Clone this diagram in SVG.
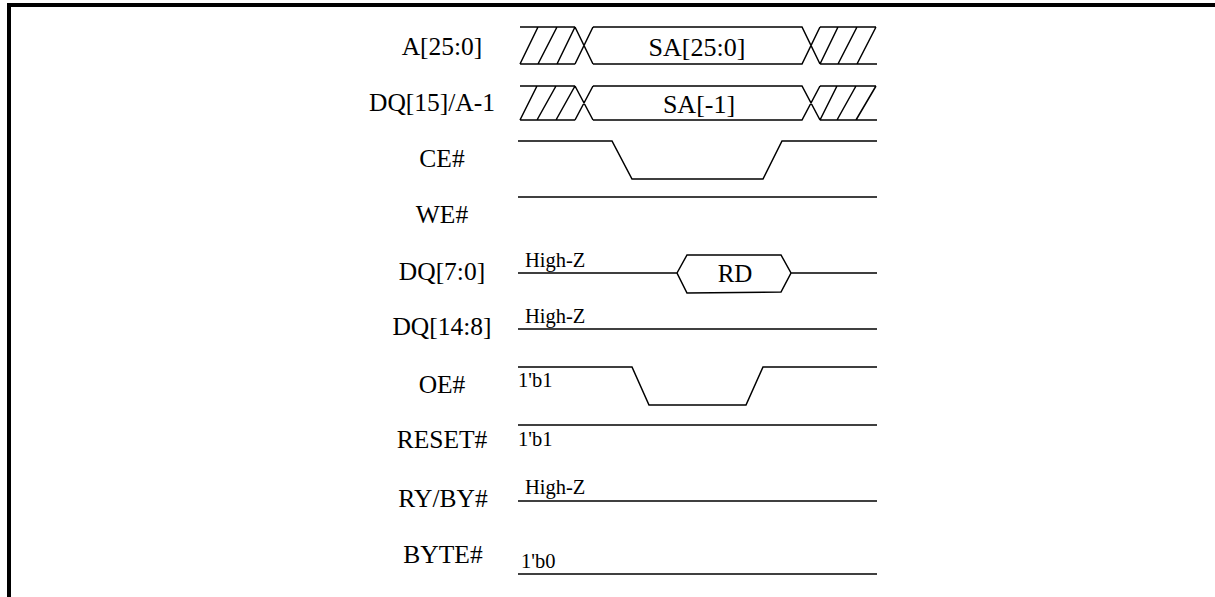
<svg xmlns="http://www.w3.org/2000/svg" width="1215" height="597" viewBox="0 0 1215 597">
<style>
.w{fill:none;stroke:#000;stroke-width:1.5;stroke-linejoin:miter}
text{font-family:'Liberation Serif','Times New Roman','DejaVu Serif',serif;fill:#000}
.lbl{font-size:25.5px;text-anchor:middle}
.bus{font-size:26px;text-anchor:middle}
.sm{font-size:20.5px}
</style>
<rect width="1215" height="597" fill="#fff"/>
<path d="M9,600 V5 H1220" fill="none" stroke="#000" stroke-width="4"/>
<g id="labels">
<text class="lbl" x="442" y="55">A[25:0]</text>
<text class="lbl" x="432" y="111">DQ[15]/A-1</text>
<text class="lbl" x="442" y="167">CE#</text>
<text class="lbl" x="442" y="223">WE#</text>
<text class="lbl" x="442" y="280">DQ[7:0]</text>
<text class="lbl" x="442" y="335">DQ[14:8]</text>
<text class="lbl" x="442" y="393">OE#</text>
<text class="lbl" x="442" y="448">RESET#</text>
<text class="lbl" x="443" y="507">RY/BY#</text>
<text class="lbl" x="443" y="563">BYTE#</text>
</g>
<g id="wave-A">
<path class="w" d="M520,27 H575 M520,64 H575 M520,64 L538,27 M538,64 L557,27 M557,64 L575,27 M575,27 L593,64 M575,64 L593,27 M593,27 H802 L820,64 M593,64 H802 L820,27 M820,27 H876 M820,64 H877 M820,64 L838,27 M838,64 L857,27 M857,64 L876,27"/>
<text class="bus" x="697" y="56">SA[25:0]</text>
</g>
<g id="wave-DQ15">
<path class="w" d="M520,86 H575 M520,120 H575 M520,120 L537,86 M537,120 L556,86 M556,120 L575,86 M575,86 L593,120 M575,120 L593,86 M593,86 H802 L820,120 M593,120 H802 L820,86 M820,86 H876 M820,120 H877 M820,120 L837,86 M837,120 L856,86 M856,120 L876,86"/>
<text class="bus" x="699" y="113">SA[-1]</text>
</g>
<g id="wave-CE">
<path class="w" d="M518,141 H612 L632,179 H763 L782,141 H877"/>
</g>
<g id="wave-WE">
<path class="w" d="M518,197 H877"/>
</g>
<g id="wave-DQ7">
<path class="w" d="M518,273 H677 M791,273 H877 M677,273 L687,255 H781 L791,273 L781,292 L687,293 Z"/>
<text class="sm" x="525" y="267">High-Z</text>
<text class="bus" x="735" y="282" style="font-size:25px">RD</text>
</g>
<g id="wave-DQ14">
<path class="w" d="M518,329 H877"/>
<text class="sm" x="525" y="323">High-Z</text>
</g>
<g id="wave-OE">
<path class="w" d="M518,367 H632 L649,405 H746 L763,367 H877"/>
<text class="sm" x="518" y="387">1'b1</text>
</g>
<g id="wave-RESET">
<path class="w" d="M518,425 H877"/>
<text class="sm" x="518" y="446">1'b1</text>
</g>
<g id="wave-RYBY">
<path class="w" d="M518,501 H877"/>
<text class="sm" x="525" y="494">High-Z</text>
</g>
<g id="wave-BYTE">
<path class="w" d="M518,574 H877"/>
<text class="sm" x="521" y="568">1'b0</text>
</g>
</svg>
